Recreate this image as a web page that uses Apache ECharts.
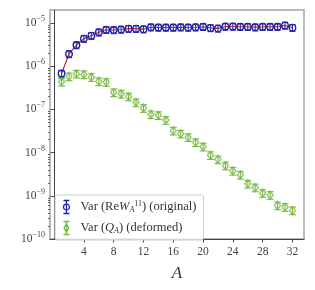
<!DOCTYPE html>
<html><head><meta charset="utf-8">
<script src="https://cdn.jsdelivr.net/npm/echarts@6.0.0/dist/echarts.min.js"></script>
<style>html,body{margin:0;padding:0;background:#fff}#c{width:315px;height:290px}</style>
</head><body><div id="c"></div>
<script>
const sizesA = [1,2,3,4,5,6,7,8,9,10,11,12,13,14,15,16,17,18,19,20,21,22,23,24,25,26,27,28,29,30,31,32];
const varOriginal = [6.8e-7,1.92e-6,3.1e-6,4.35e-6,5.1e-6,6.1e-6,7.0e-6,6.9e-6,7.1e-6,7.4e-6,7.4e-6,7.2e-6,8.0e-6,7.9e-6,7.9e-6,7.9e-6,8.0e-6,7.9e-6,8.0e-6,8.2e-6,7.7e-6,7.5e-6,8.3e-6,8.3e-6,8.2e-6,8.2e-6,8.0e-6,8.2e-6,8.2e-6,8.2e-6,8.8e-6,7.8e-6];
const relErrOriginal = [0.18,0.18,0.18,0.18,0.18,0.18,0.18,0.18,0.18,0.18,0.18,0.18,0.18,0.18,0.18,0.18,0.18,0.18,0.18,0.18,0.18,0.18,0.18,0.18,0.18,0.18,0.18,0.18,0.18,0.18,0.18,0.18];
const varDeformed = [4.34e-7,5.78e-7,6.64e-7,6.46e-7,5.57e-7,4.46e-7,4.27e-7,2.47e-7,2.29e-7,1.98e-7,1.45e-7,1.07e-7,7.67e-8,7.31e-8,5.66e-8,3.21e-8,2.73e-8,2.26e-8,1.73e-8,1.37e-8,8.69e-9,6.95e-9,5.0e-9,3.77e-9,3.05e-9,1.89e-9,1.55e-9,1.15e-9,1.04e-9,5.96e-10,5.48e-10,4.57e-10];
const relErrDeformed = [0.2,0.2,0.2,0.2,0.2,0.2,0.2,0.2,0.2,0.2,0.2,0.2,0.2,0.2,0.2,0.2,0.2,0.2,0.2,0.2,0.2,0.2,0.2,0.2,0.2,0.2,0.2,0.2,0.2,0.2,0.2,0.2];
const xTickValues = [4,8,12,16,20,24,28,32];
const yMajorTicks = [1e-10,1e-9,1e-8,1e-7,1e-6,1e-5];
const yMinorTicks = [];
yMajorTicks.forEach(d => { [2,3,4,5,6,7,8,9].forEach(m => { if (m*d < 2e-5) yMinorTicks.push(m*d); }); });

const BLUE = '#2222aa', GREEN = '#77b843', RED = '#aa2a22';
const SERIF = '"Liberation Serif","DejaVu Serif",serif';

function errData(vals, errs) {
  return sizesA.map((a, i) => [a, vals[i] * (1 - errs[i]), vals[i] * (1 + errs[i])]);
}
function errRender(color, halfCap) {
  return function (params, api) {
    const lo = api.coord([api.value(0), api.value(1)]);
    const hi = api.coord([api.value(0), api.value(2)]);
    const st = {stroke: color, lineWidth: 1.1};
    return {type: 'group', children: [
      {type: 'line', shape: {x1: lo[0], y1: lo[1], x2: hi[0], y2: hi[1]}, style: st},
      {type: 'line', shape: {x1: lo[0]-halfCap, y1: lo[1], x2: lo[0]+halfCap, y2: lo[1]}, style: st},
      {type: 'line', shape: {x1: hi[0]-halfCap, y1: hi[1], x2: hi[0]+halfCap, y2: hi[1]}, style: st}
    ]};
  };
}

const nameOrig = 'orig', nameDef = 'def';
const chart = echarts.init(document.getElementById('c'), null, {renderer: 'canvas'});
chart.setOption({
  animation: false,
  backgroundColor: '#fff',
  grid: {left: 50, top: 10, right: 11, bottom: 51, show: true, borderColor: '#bbbbbb', borderWidth: 2, backgroundColor: 'transparent'},
  xAxis: {
    type: 'value', min: -0.55, max: 33.55,
    name: 'A', nameLocation: 'middle', nameGap: 26,
    nameTextStyle: {fontFamily: SERIF, fontStyle: 'italic', fontSize: 17, color: '#333'},
    axisLine: {show: true, lineStyle: {color: '#444', width: 1}},
    axisTick: {show: true, inside: false, length: 3.5, customValues: xTickValues, lineStyle: {color: '#444'}},
    axisLabel: {customValues: xTickValues, fontFamily: SERIF, fontSize: 11.5, color: '#444', margin: 7},
    splitLine: {show: false}
  },
  yAxis: [{
    type: 'log', logBase: 10, min: 1e-10, max: 2e-5,
    axisLine: {show: true, lineStyle: {color: '#444', width: 1}},
    axisTick: {show: true, length: 3.5, customValues: yMajorTicks, lineStyle: {color: '#444'}},
    axisLabel: {
      customValues: yMajorTicks, margin: 5, color: '#444',
      formatter: v => '{b|10}{s|−' + Math.abs(Math.round(Math.log10(v))) + '}',
      rich: {b: {fontFamily: SERIF, fontSize: 11.5, color: '#444'}, s: {fontFamily: SERIF, fontSize: 8, color: '#444', padding: [0,0,8,0]}}
    },
    splitLine: {show: false}
  }, {
    type: 'log', logBase: 10, min: 1e-10, max: 2e-5, position: 'left',
    axisLine: {show: false},
    axisTick: {show: true, length: 2, customValues: yMinorTicks, lineStyle: {color: '#444', width: 0.8}},
    axisLabel: {show: false},
    splitLine: {show: false}
  }],
  legend: {
    left: 55, top: 195, orient: 'vertical', itemGap: 3,
    padding: [3, 7, 3, 6], itemWidth: 8, itemHeight: 13,
    borderColor: '#cccccc', borderWidth: 1, borderRadius: 2, backgroundColor: 'rgba(255,255,255,0.8)',
    data: [
      {name: nameOrig, icon: 'path://M1,1L11,1M6,1L6,23M1,23L11,23M6,7A5,5 0 1 1 5.99,7Z', itemStyle: {color: 'none', borderColor: BLUE, borderWidth: 1.3}},
      {name: nameDef, icon: 'path://M1,1L11,1M6,1L6,23M1,23L11,23M6,5L10,12L6,19L2,12Z', itemStyle: {color: 'none', borderColor: GREEN, borderWidth: 1.3}}
    ],
    formatter: function (n) {
      if (n === nameOrig) return '{t|Var (Re}{i|W}{sub|A}{sup|11}{t|) (original)}';
      return '{t|Var (}{i|Q}{sub|A}{t|) (deformed)}';
    },
    textStyle: {
      fontFamily: SERIF, fontSize: 12.5, color: '#333', padding: [0, 0, 0, 5],
      rich: {
        t: {fontFamily: SERIF, fontSize: 12.5, color: '#333', lineHeight: 15},
        i: {fontFamily: SERIF, fontSize: 12.5, fontStyle: 'italic', color: '#333', lineHeight: 15},
        sub: {fontFamily: SERIF, fontSize: 8, fontStyle: 'italic', color: '#333', lineHeight: 9, padding: [5,0,0,0]},
        sup: {fontFamily: SERIF, fontSize: 8, color: '#333', lineHeight: 9, padding: [0,0,6,0]}
      }
    }
  },
  series: [
    {name: nameOrig, type: 'custom', data: errData(varOriginal, relErrOriginal), renderItem: errRender(BLUE, 3), encode: {x: 0, y: [1, 2]}, z: 3},
    {name: nameOrig, type: 'line', data: sizesA.map((a, i) => [a, varOriginal[i]]), symbol: 'circle', symbolSize: 6.5,
     lineStyle: {color: RED, width: 1.1}, itemStyle: {color: 'rgba(0,0,0,0)', borderColor: BLUE, borderWidth: 1.4}, z: 4},
    {name: nameDef, type: 'custom', data: errData(varDeformed, relErrDeformed), renderItem: errRender(GREEN, 3.5), encode: {x: 0, y: [1, 2]}, z: 3},
    {name: nameDef, type: 'scatter', data: sizesA.map((a, i) => [a, varDeformed[i]]), symbol: 'diamond', symbolSize: [6, 8],
     itemStyle: {color: 'rgba(0,0,0,0)', borderColor: GREEN, borderWidth: 1.4}, z: 4}
  ]
});
</script></body></html>
